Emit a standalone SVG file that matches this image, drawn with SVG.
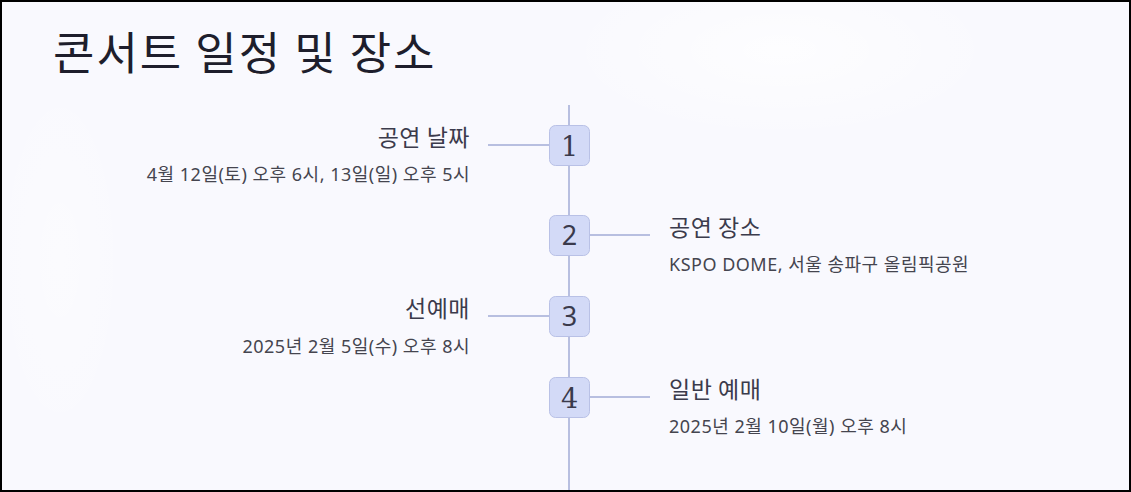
<svg xmlns="http://www.w3.org/2000/svg" width="1131" height="492" viewBox="0 0 1131 492">
<defs>
<radialGradient id="glow1" cx="0.5" cy="0.5" r="0.5"><stop offset="0" stop-color="#ffffff" stop-opacity="0.7"/><stop offset="1" stop-color="#ffffff" stop-opacity="0"/></radialGradient>
</defs>
<style>
.title{font-family:"Noto Sans CJK KR",sans-serif;font-size:45px;fill:#1e1e2c;letter-spacing:2px}
.head{font-family:"Noto Sans CJK KR",sans-serif;font-size:23px;fill:#3b3b4c;letter-spacing:0.5px}
.sub{font-family:"Noto Sans","Noto Sans CJK KR",sans-serif;font-size:18px;fill:#45454f;letter-spacing:0.5px}
.box{fill:#d3daf7;stroke:#b9c1e6;stroke-width:1}
.num{font-size:27px;fill:#3a3a4c;text-anchor:middle}
.serif{font-family:"DejaVu Serif",serif}
.sans{font-family:"Noto Sans",sans-serif}
.ln{stroke:#b8bfe0;stroke-width:2;fill:none}
</style>
<rect x="0" y="0" width="1131" height="492" fill="#f9f9fe"/>
<ellipse cx="780" cy="50" rx="220" ry="90" fill="url(#glow1)"/>
<ellipse cx="60" cy="260" rx="70" ry="200" fill="url(#glow1)" opacity="0.5"/>
<rect x="1" y="1" width="1129" height="490" fill="none" stroke="#000" stroke-width="2"/>
<text class="title" x="53" y="70">콘서트 일정 및 장소</text>
<g id="connectors">
<line class="ln" x1="569" y1="105" x2="569" y2="490"/>
<line class="ln" x1="488" y1="145" x2="549" y2="145"/>
<line class="ln" x1="589" y1="235" x2="650" y2="235"/>
<line class="ln" x1="488" y1="316" x2="549" y2="316"/>
<line class="ln" x1="589" y1="397" x2="650" y2="397"/>
</g>
<g id="node1">
<rect class="box" x="549.5" y="125.5" width="40" height="40" rx="6"/>
<text class="num serif" x="569.5" y="156">1</text>
<text class="head" x="470" y="146" text-anchor="end">공연 날짜</text>
<text class="sub" x="470" y="181" text-anchor="end">4월 12일(토) 오후 6시, 13일(일) 오후 5시</text>
</g>
<g id="node2">
<rect class="box" x="549.5" y="215.5" width="40" height="40" rx="6"/>
<text class="num sans" x="569.5" y="245">2</text>
<text class="head" x="669" y="236">공연 장소</text>
<text class="sub" x="669" y="271">KSPO DOME, 서울 송파구 올림픽공원</text>
</g>
<g id="node3">
<rect class="box" x="549.5" y="296.5" width="40" height="40" rx="6"/>
<text class="num sans" x="569.5" y="326">3</text>
<text class="head" x="470" y="317" text-anchor="end">선예매</text>
<text class="sub" x="470" y="353" text-anchor="end">2025년 2월 5일(수) 오후 8시</text>
</g>
<g id="node4">
<rect class="box" x="549.5" y="377.5" width="40" height="40" rx="6"/>
<text class="num serif" x="569.5" y="408">4</text>
<text class="head" x="669" y="398">일반 예매</text>
<text class="sub" x="669" y="433">2025년 2월 10일(월) 오후 8시</text>
</g>
</svg>
